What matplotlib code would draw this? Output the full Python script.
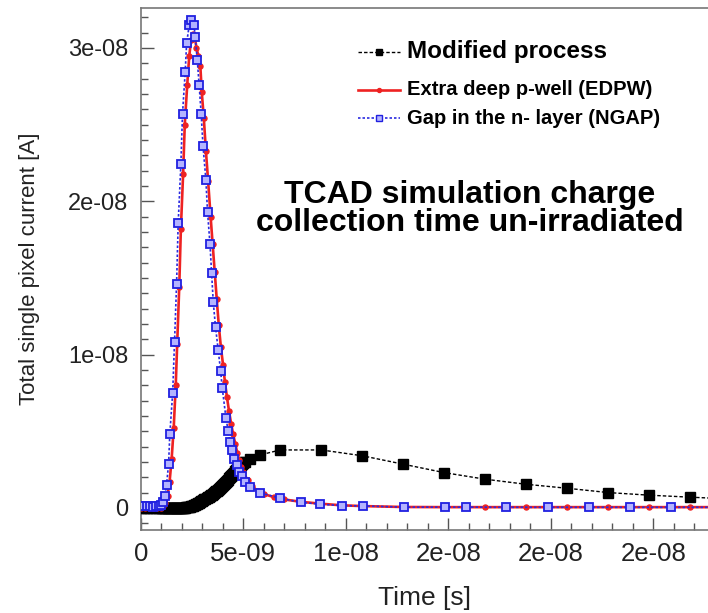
import matplotlib
matplotlib.use("Agg")
import matplotlib.pyplot as plt
from matplotlib.ticker import MultipleLocator, FixedLocator

plt.rcParams["font.family"] = ["Liberation Sans", "DejaVu Sans"]

OUT = "out.png"

# time in ns, current in units of 1e-8 A
t_mod = [0.0, 0.15, 0.3, 0.45, 0.6, 0.75, 0.9, 1.0, 1.05, 1.1, 1.15, 1.2,
         1.25, 1.3, 1.35, 1.4, 1.45, 1.5, 1.55, 1.6, 1.65, 1.7, 1.75, 1.8,
         1.85, 1.9, 1.95, 2.0, 2.05, 2.1, 2.15, 2.2, 2.25, 2.3, 2.35, 2.4,
         2.45, 2.5, 2.55, 2.6, 2.65, 2.7, 2.75, 2.8, 2.85, 2.9, 2.95, 3.0,
         3.05, 3.1, 3.15, 3.2, 3.25, 3.3, 3.35, 3.4, 3.45, 3.5, 3.55, 3.6,
         3.65, 3.7, 3.75, 3.8, 3.85, 3.9, 3.95, 4.0, 4.05, 4.1, 4.15, 4.2,
         4.25, 4.3, 4.35, 4.4, 4.45, 4.5, 4.55, 4.6, 4.65, 4.7, 4.75, 4.8,
         4.85, 4.9, 4.95, 5.0, 5.05, 5.1, 5.3, 5.8, 6.8, 8.8, 10.8, 12.8,
         14.8, 16.8, 18.8, 20.8, 22.8, 24.8, 26.8, 28.8]
i_mod = [0.0, 0.0, 0.0, 0.0, 0.0, 0.0, 0.0, 0.0, 0.0, 0.0, 0.0, 0.0,
         0.0, 0.0, 0.0, 0.0, 0.0, 0.0, 0.0, 0.0, 0.0, 0.0, 0.0, 0.0,
         0.0, 0.001, 0.001, 0.001, 0.002, 0.002, 0.0025, 0.003, 0.004, 0.005,
         0.0065, 0.008, 0.010, 0.012, 0.0145, 0.017, 0.020, 0.023, 0.0265,
         0.030, 0.034, 0.038, 0.042, 0.046, 0.0505, 0.055, 0.0595, 0.064,
         0.0685, 0.073, 0.0775, 0.082, 0.087, 0.092, 0.097, 0.102, 0.1075,
         0.113, 0.1185, 0.124, 0.130, 0.136, 0.143, 0.150, 0.1565, 0.163,
         0.170, 0.177, 0.1845, 0.192, 0.1995, 0.207, 0.2145, 0.222, 0.230,
         0.238, 0.246, 0.254, 0.261, 0.268, 0.274, 0.280, 0.286, 0.292,
         0.297, 0.302, 0.318, 0.345, 0.378, 0.378, 0.34, 0.285, 0.23, 0.187,
         0.154, 0.128, 0.10, 0.083, 0.07, 0.058]

t_edpw = [0.0, 0.2, 0.4, 0.6, 0.8, 1.0, 1.1, 1.2, 1.3, 1.4, 1.5, 1.6, 1.7,
          1.77, 1.87, 1.95, 2.06, 2.14, 2.26, 2.36, 2.45, 2.55, 2.63, 2.71,
          2.8, 2.9, 2.97, 3.07, 3.17, 3.28, 3.4, 3.5, 3.6, 3.7, 3.8, 3.9, 4.01,
          4.1, 4.2, 4.3, 4.4, 4.5, 4.6, 4.7, 4.8, 4.9, 5.0, 5.2, 5.4, 5.7, 6.0,
          6.5, 7.0, 7.8, 8.8, 9.8, 10.8, 12.8, 14.8, 16.8, 18.8, 20.8, 22.8,
          24.8, 26.8, 28.8]
i_edpw = [0.0, 0.0, 0.0, 0.0, 0.0, 0.002, 0.01, 0.03, 0.08, 0.17, 0.32, 0.52,
          0.8, 1.07, 1.44, 1.82, 2.18, 2.5, 2.76, 2.95, 3.05, 3.09, 3.07, 3.0,
          2.95, 2.88, 2.71, 2.54, 2.33, 2.13, 1.9, 1.72, 1.54, 1.36, 1.19, 1.05,
          0.93, 0.82, 0.72, 0.63, 0.55, 0.48, 0.42, 0.36, 0.31, 0.27, 0.235,
          0.18, 0.145, 0.11, 0.09, 0.07, 0.055, 0.04, 0.027, 0.017, 0.012,
          0.006, 0.005, 0.005, 0.005, 0.005, 0.005, 0.005, 0.005, 0.005]

t_ngap = [0.0, 0.15, 0.3, 0.45, 0.6, 0.75, 0.9, 1.0, 1.08, 1.17, 1.25, 1.35,
          1.41, 1.55, 1.64, 1.74, 1.82, 1.95, 2.03, 2.16, 2.23, 2.36, 2.42,
          2.59, 2.65, 2.75, 2.84, 2.94, 3.03, 3.17, 3.25, 3.37, 3.45, 3.53,
          3.64, 3.77, 3.89, 3.97, 4.15, 4.26, 4.34, 4.42, 4.54, 4.67, 4.8,
          4.91, 5.07, 5.32, 5.8, 6.78, 7.8, 8.76, 9.83, 10.85, 12.83, 14.83,
          15.84, 17.8, 19.87, 21.85, 23.85, 25.84, 28.8]
i_ngap = [0.01, 0.012, 0.015, 0.01, 0.008, 0.01, 0.012, 0.02, 0.04, 0.078,
          0.15, 0.285, 0.48, 0.75, 1.08, 1.46, 1.86, 2.24, 2.57, 2.84, 3.03,
          3.15, 3.18, 3.15, 3.07, 2.92, 2.76, 2.57, 2.36, 2.14, 1.93, 1.72,
          1.53, 1.34, 1.18, 1.03, 0.89, 0.78, 0.585, 0.5, 0.43, 0.38, 0.32,
          0.28, 0.237, 0.21, 0.17, 0.135, 0.10, 0.063, 0.037, 0.024, 0.015,
          0.013, 0.005, 0.005, 0.005, 0.004, 0.004, 0.004, 0.004, 0.004, 0.004]

x_ticks = [0, 5, 10, 15, 20, 25]
x_tick_labels = ["0", "5e-09", "1e-08", "2e-08", "2e-08", "2e-08"]
y_ticks = [0, 1, 2, 3]
y_tick_labels = ["0", "1e-08", "2e-08", "3e-08"]

series_names = ["Modified process", "Extra deep p-well (EDPW)",
                "Gap in the n- layer (NGAP)"]

NS = 1e-9
UA = 1e-8

fig = plt.figure(figsize=(7.08, 6.13), dpi=100)
ax = fig.add_axes([0.199, 0.1354, 0.801, 0.8516])

blk = dict(color="black", ls=(0, (2.5, 1.5)), lw=1.0, marker="s", ms=6.5,
           mfc="black", mec="black")
red = dict(color="#ee2222", ls="-", lw=1.9, marker="o", ms=3.6,
           mfc="#ee2222", mec="#ee2222")
blu = dict(color="#2a2ae0", ls=(0, (1.5, 1.2)), lw=1.2, marker="s", ms=5.5,
           mfc="#b4b4ff", mec="#2020e0", mew=1.3)

ax.plot([t * NS for t in t_mod], [v * UA for v in i_mod], zorder=3, **blk)
ax.plot([t * NS for t in t_edpw], [v * UA for v in i_edpw], zorder=4, **red)
ax.plot([t * NS for t in t_ngap], [v * UA for v in i_ngap], zorder=5, **blu)

ax.set_xlim(0, 27.66 * NS)
ax.set_ylim(-0.144 * UA, 3.26 * UA)

ax.xaxis.set_major_locator(FixedLocator([x * NS for x in x_ticks]))
ax.set_xticklabels(x_tick_labels)
ax.xaxis.set_minor_locator(MultipleLocator(1 * NS))
ax.yaxis.set_major_locator(FixedLocator([y * UA for y in y_ticks]))
ax.set_yticklabels(y_tick_labels)
ax.yaxis.set_minor_locator(MultipleLocator(0.1 * UA))

ax.tick_params(which="both", direction="in", color="#555555", width=1.0,
               top=False, right=False)
ax.tick_params(which="major", length=9, pad=9, labelsize=17,
               labelcolor="#222222")
ax.tick_params(axis="x", which="major", labelsize=18.5)
ax.tick_params(which="minor", length=5)

for side in ["left", "bottom", "top"]:
    ax.spines[side].set_color("#777777")
    ax.spines[side].set_linewidth(1.2)
ax.spines["right"].set_visible(False)

ax.set_xlabel("Time [s]", fontsize=19, color="#222222", labelpad=14)
ax.set_ylabel("Total single pixel current [A]", fontsize=16,
              color="#222222", labelpad=20)

# legend keys drawn by hand so each entry can have its own font size
key_x = [0.383, 0.457]
key_y = [0.916, 0.843, 0.789]
key_styles = [blk, red, blu]
key_sizes = [17.5, 14.5, 14.5]
for name, y, st, fs in zip(series_names, key_y, key_styles, key_sizes):
    line_kw = {k: v for k, v in st.items() if k not in ("marker", "ms", "mfc", "mec", "mew")}
    ax.plot(key_x, [y, y], transform=ax.transAxes, clip_on=False, **line_kw)
    ax.plot([sum(key_x) / 2], [y], transform=ax.transAxes, ls="none",
            marker=st["marker"], ms=min(st["ms"], 5.5) * 0.8, mfc=st["mfc"],
            mec=st["mec"], clip_on=False)
    ax.text(0.469, y, name, transform=ax.transAxes, fontsize=fs,
            fontweight="bold", va="center", ha="left")

ax.text(0.58, 0.615, "TCAD simulation charge\ncollection time un-irradiated",
        transform=ax.transAxes, fontsize=23, fontweight="bold",
        ha="center", va="center", linespacing=0.95)

fig.savefig(OUT, dpi=100, facecolor="white")
plt.close(fig)
